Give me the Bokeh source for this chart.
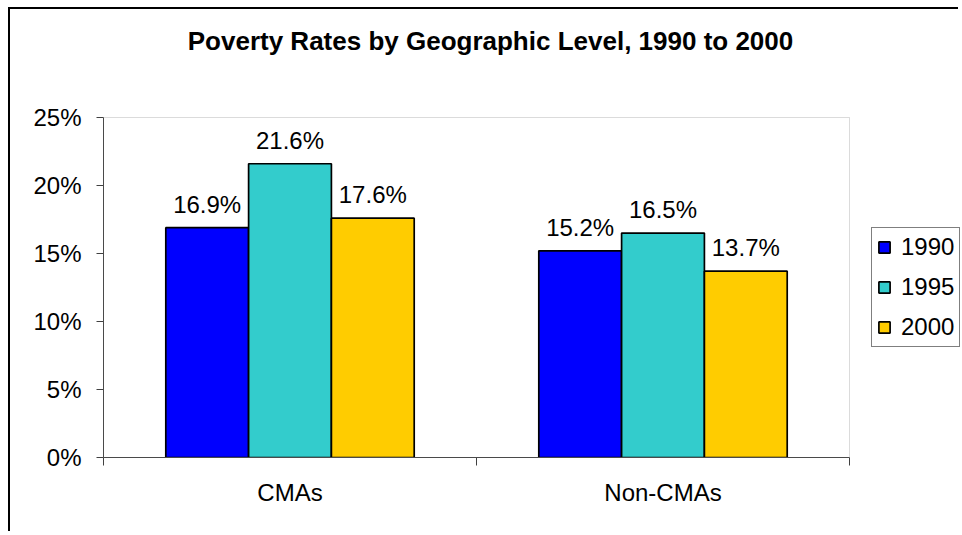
from bokeh.plotting import figure
from bokeh.models import (Range1d, LinearAxis, FixedTicker, PrintfTickFormatter,
                          ColumnDataSource, LabelSet, Legend, LegendItem, Label,
                          BoxAnnotation)
from bokeh.transform import dodge
from bokeh.core.properties import value
from bokeh.embed import file_html
from bokeh.resources import INLINE

# ---- data ----
categories = ["CMAs", "Non-CMAs"]
years = ["1990", "1995", "2000"]
rates_1990 = [16.9, 15.2]
rates_1995 = [21.6, 16.5]
rates_2000 = [17.6, 13.7]
y_ticks = [0, 5, 10, 15, 20, 25]
y_max = 25
title_text = "Poverty Rates by Geographic Level, 1990 to 2000"

# ---- layout constants (pixels) ----
FONT = "Liberation Sans"
colors = ["#0000FF", "#33CCCC", "#FFCC00"]
offsets = [-0.222, 0.0, 0.222]
bar_width = 0.222
W, H = 950, 524
left_px, bottom_px = 93, 76
area_w, area_h = 746, 340          # plot-area size in pixels
top_gap_px = 108                   # space above plot area for the title
frame_w = W - left_px

n = len(categories)
px_per_cat = area_w / n
px_per_unit = area_h / y_max
x_end = frame_w / px_per_cat
y_end = y_max + top_gap_px / px_per_unit

cat_pos = [i + 0.5 for i in range(n)]
series = [rates_1990, rates_1995, rates_2000]
data = dict(cat=categories, pos=cat_pos)
for yr, vals in zip(years, series):
    data["v" + yr] = vals
    data["t" + yr] = ["%.1f%%" % v for v in vals]
src = ColumnDataSource(data)

p = figure(x_range=Range1d(0, x_end), y_range=Range1d(0, y_end),
           width=W, height=H, margin=(7, 0, 0, 8),
           output_backend="svg", toolbar_location=None,
           min_border_left=left_px, min_border_right=0,
           min_border_top=0, min_border_bottom=bottom_px,
           background_fill_color="white", border_fill_color="white")
p.styles = {"border-left": "2px solid black", "border-top": "2px solid black"}

p.outline_line_color = None
p.xgrid.grid_line_color = None
p.ygrid.grid_line_color = None

# plot-area border
p.add_layout(BoxAnnotation(left=0, right=n, bottom=0, top=y_max,
                           fill_alpha=0, line_color="#888888", line_width=1))

# y axis
ya = p.yaxis[0]
ya.ticker = FixedTicker(ticks=y_ticks)
ya.bounds = (0, y_max)
ya.formatter = PrintfTickFormatter(format="%d%%")
ya.major_tick_out = 7
ya.major_tick_in = 0
ya.minor_tick_line_color = None
ya.axis_line_color = "#404040"
ya.major_tick_line_color = "#404040"
ya.major_label_text_font = FONT
ya.major_label_text_font_size = "24px"
ya.major_label_text_color = "black"
ya.major_label_standoff = 15

# x axis: ticks at category boundaries, no labels
xa = p.xaxis[0]
xa.ticker = FixedTicker(ticks=list(range(n + 1)))
xa.bounds = (0, n)
xa.major_tick_out = 8
xa.major_tick_in = 0
xa.minor_tick_line_color = None
xa.axis_line_color = "#404040"
xa.major_tick_line_color = "#404040"
xa.major_label_text_font_size = "1px"
xa.major_label_text_alpha = 0
xa.major_label_standoff = 0

# category labels axis
cax = LinearAxis(ticker=FixedTicker(ticks=cat_pos),
                 major_label_overrides={pos: c for pos, c in zip(cat_pos, categories)},
                 major_tick_line_color=None, minor_tick_line_color=None,
                 axis_line_color=None,
                 major_label_text_font=FONT, major_label_text_font_size="24px",
                 major_label_text_color="black", major_label_standoff=7)
p.add_layout(cax, "below")

items = []
for yr, color, off in zip(years, colors, offsets):
    r = p.vbar(x=dodge("pos", off), top="v" + yr, width=bar_width,
               source=src, fill_color=color, line_color="black", line_width=1.7)
    items.append(LegendItem(label=yr, renderers=[r]))
    p.add_layout(LabelSet(x=dodge("pos", off), y="v" + yr, text="t" + yr,
                          source=src, text_align="center", text_baseline="alphabetic",
                          y_offset=15, text_font=value(FONT), text_font_size="24px",
                          text_color="black"))

# title (placed above the plot area)
p.add_layout(Label(x=n / 2 + 14 / px_per_cat, y=y_max + 77 / px_per_unit,
                   text=title_text, text_align="center", text_baseline="alphabetic",
                   text_font=FONT, text_font_style="bold", text_font_size="26px",
                   text_color="black"))

lg = Legend(items=items, location=(area_w + 22, 110), orientation="vertical",
            label_text_font=FONT, label_text_font_size="24px", label_text_color="black",
            glyph_width=14, glyph_height=14, label_standoff=10, spacing=12,
            padding=5, margin=0, border_line_color="black", border_line_width=1,
            background_fill_color="white", background_fill_alpha=1)
p.add_layout(lg, "center")

open("out.html", "w").write(file_html(p, INLINE))
